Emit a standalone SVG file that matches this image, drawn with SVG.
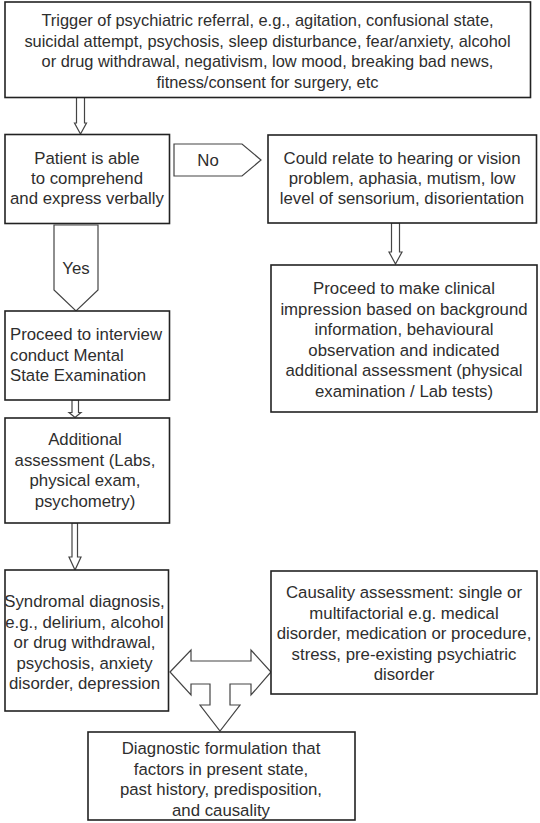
<svg xmlns="http://www.w3.org/2000/svg" width="540" height="823" viewBox="0 0 540 823">
<style>
.box{fill:#fff;stroke:#222;stroke-width:1.6}
.arr{fill:#fff;stroke:#444;stroke-width:1.2;stroke-linejoin:miter}
text{font-family:"Liberation Sans",Arial,sans-serif;font-size:16.8px;fill:#2e2e2e}
.c{text-anchor:middle}
.t{font-size:16.4px}
</style>
<rect width="540" height="823" fill="#fff"/>
<g id="connectors">
<polygon class="arr" points="76.5,97 84.5,97 84.5,123 86.5,123 80.5,134 74.5,123 76.5,123"/>
<polygon class="arr" points="174,144 242,144 261,160 242,176 174,176"/>
<text class="c" x="208" y="166">No</text>
<polygon class="arr" points="54,225 98,225 98,290 76,311 54,290"/>
<text class="c" x="76" y="274">Yes</text>
<polygon class="arr" points="391.5,223 399.5,223 399.5,252 402,252 395.5,264 389,252 391.5,252"/>
<polygon class="arr" points="72,400 78.5,400 78.5,412.5 81,412.5 75,417.5 69,412.5 72,412.5"/>
<polygon class="arr" points="72,523 77.5,523 77.5,557 81,557 75,570 69,557 72,557"/>
<polygon class="arr" points="170,672 191,650 191,661 251,661 251,650 271,672 251,695 251,684 230,684 230,705 240,705 220,731 200,705 210,705 210,684 191,684 191,695"/>
</g>
<g id="trigger">
<rect class="box" x="5" y="2" width="525.5" height="95.5"/>
<text class="c t" x="267.5" y="26">Trigger of psychiatric referral, e.g., agitation, confusional state,</text>
<text class="c t" x="267.5" y="46.5">suicidal attempt, psychosis, sleep disturbance, fear/anxiety, alcohol</text>
<text class="c t" x="267.5" y="67">or drug withdrawal, negativism, low mood, breaking bad news,</text>
<text class="c t" x="267.5" y="87.5">fitness/consent for surgery, etc</text>
</g>
<g id="patient">
<rect class="box" x="5" y="134.5" width="164.5" height="89"/>
<text class="c" x="87" y="164">Patient is able</text>
<text class="c" x="87" y="184">to comprehend</text>
<text class="c" x="87" y="204">and express verbally</text>
</g>
<g id="could-relate">
<rect class="box" x="268" y="135" width="268.5" height="88"/>
<text class="c" x="402" y="164">Could relate to hearing or vision</text>
<text class="c" x="402" y="184">problem, aphasia, mutism, low</text>
<text class="c" x="402" y="204">level of sensorium, disorientation</text>
</g>
<g id="clinical">
<rect class="box" x="271" y="265" width="266" height="147"/>
<text class="c" x="404" y="294">Proceed to make clinical</text>
<text class="c" x="404" y="314.5">impression based on background</text>
<text class="c" x="404" y="335">information, behavioural</text>
<text class="c" x="404" y="355.5">observation and indicated</text>
<text class="c" x="404" y="376">additional assessment (physical</text>
<text class="c" x="404" y="396.5">examination / Lab tests)</text>
</g>
<g id="interview">
<rect class="box" x="5" y="311" width="164.5" height="89"/>
<text x="10" y="340">Proceed to interview</text>
<text x="10" y="360.5">conduct Mental</text>
<text x="10" y="381">State Examination</text>
</g>
<g id="additional">
<rect class="box" x="5" y="418" width="164.5" height="105"/>
<text class="c" x="85" y="445">Additional</text>
<text class="c" x="85" y="465.5">assessment (Labs,</text>
<text class="c" x="85" y="486">physical exam,</text>
<text class="c" x="85" y="506.5">psychometry)</text>
</g>
<g id="syndromal">
<rect class="box" x="5" y="570" width="163.5" height="141"/>
<text class="c" x="84.5" y="607">Syndromal diagnosis,</text>
<text class="c" x="84.5" y="627.5">e.g., delirium, alcohol</text>
<text class="c" x="84.5" y="648">or drug withdrawal,</text>
<text class="c" x="84.5" y="668.5">psychosis, anxiety</text>
<text class="c" x="84.5" y="689">disorder, depression</text>
</g>
<g id="causality">
<rect class="box" x="271" y="571" width="266" height="123"/>
<text class="c" x="404" y="598">Causality assessment: single or</text>
<text class="c" x="404" y="618.5">multifactorial e.g. medical</text>
<text class="c" x="404" y="639">disorder, medication or procedure,</text>
<text class="c" x="404" y="659.5">stress, pre-existing psychiatric</text>
<text class="c" x="404" y="680">disorder</text>
</g>
<g id="formulation">
<rect class="box" x="88" y="732" width="267" height="88"/>
<text class="c" x="221" y="754">Diagnostic formulation that</text>
<text class="c" x="221" y="774.5">factors in present state,</text>
<text class="c" x="221" y="795">past history, predisposition,</text>
<text class="c" x="221" y="815.5">and causality</text>
</g>
</svg>
